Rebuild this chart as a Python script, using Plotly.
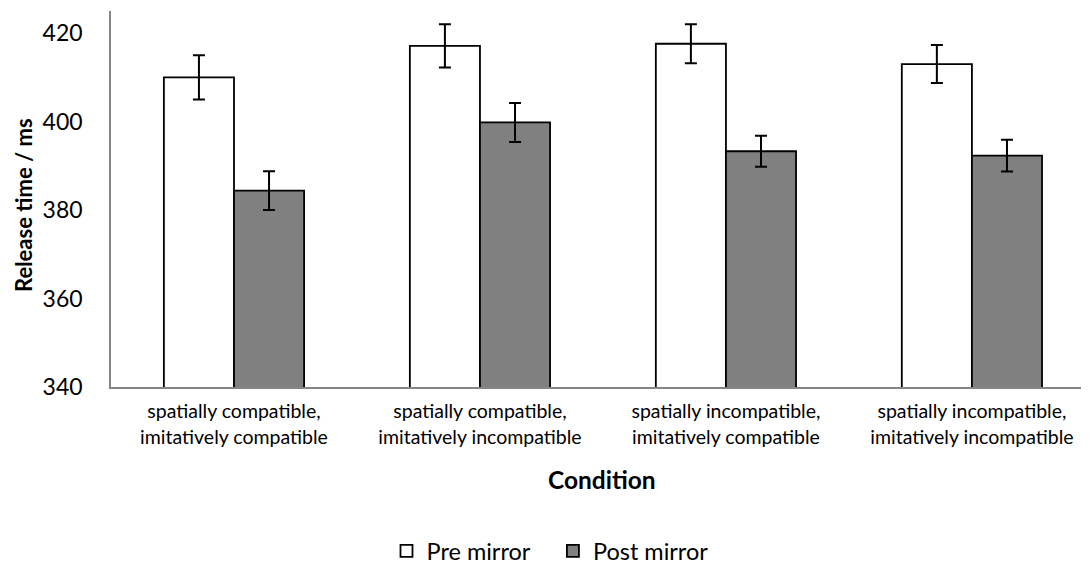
import plotly.graph_objects as go

categories = ["spatially compatible,<br>imitatively compatible",
              "spatially compatible,<br>imitatively incompatible",
              "spatially incompatible,<br>imitatively compatible",
              "spatially incompatible,<br>imitatively incompatible"]
series_names = ["Pre mirror", "Post mirror"]
pre_vals = [410.0, 417.1, 417.6, 413.0]
pre_err = [5.0, 4.9, 4.4, 4.3]
post_vals = [384.4, 399.8, 393.3, 392.3]
post_err = [4.4, 4.4, 3.5, 3.6]
y_ticks = [340, 360, 380, 400, 420]

FONT = "Lato"
# page body has an 8px default margin; figure is sized to fit the window
W, H = 1081, 557

fig = go.Figure()
fig.add_trace(go.Bar(
    name=series_names[0] + "\u00a0\u00a0\u00a0", x=categories, y=pre_vals,
    marker=dict(color="white", line=dict(color="black", width=1.8)),
    error_y=dict(type="data", array=pre_err, color="black", thickness=2, width=6),
))
fig.add_trace(go.Bar(
    name=series_names[1], x=categories, y=post_vals,
    marker=dict(color="#808080", line=dict(color="black", width=1.8)),
    error_y=dict(type="data", array=post_err, color="black", thickness=2, width=6),
))

fig.update_layout(
    width=W, height=H,
    margin=dict(l=103, r=0, t=3, b=H - 379, autoexpand=False),
    paper_bgcolor="white", plot_bgcolor="white",
    barmode="group", bargap=0.43, bargroupgap=0,
    font=dict(family=FONT, color="black"),
    showlegend=True,
    legend=dict(orientation="h", xref="container", yref="container",
                x=542 / W, xanchor="center", y=1 - 543 / H, yanchor="middle",
                font=dict(size=23.5, family=FONT), traceorder="normal",
                itemwidth=30),
    xaxis=dict(
        type="category", range=[-0.5, 3.476], automargin=False,
        showline=True, linecolor="#868686", linewidth=1.5,
        showgrid=False, ticks="", tickfont=dict(size=19.5, family=FONT),
        ticklabelstandoff=6,
    ),
    yaxis=dict(
        range=[340, 425], tickvals=y_ticks, automargin=False,
        showline=True, linecolor="#868686", linewidth=1.5,
        showgrid=False, ticks="", tickfont=dict(size=23, family=FONT),
        ticklabelstandoff=22, zeroline=False,
    ),
    annotations=[
        dict(text="<b>Release time / ms</b>", xref="paper", yref="paper",
             x=(23 - 111) / 978, y=(387 - 205) / 376, textangle=-90,
             showarrow=False, font=dict(size=22, family=FONT),
             xanchor="center", yanchor="middle"),
        dict(text="<b>Condition</b>", xref="paper", yref="paper",
             x=(602 - 111) / 978, y=(387 - 479) / 376,
             showarrow=False, font=dict(size=24.5, family=FONT),
             xanchor="center", yanchor="middle"),
    ],
)

fig.write_html("out.html")
